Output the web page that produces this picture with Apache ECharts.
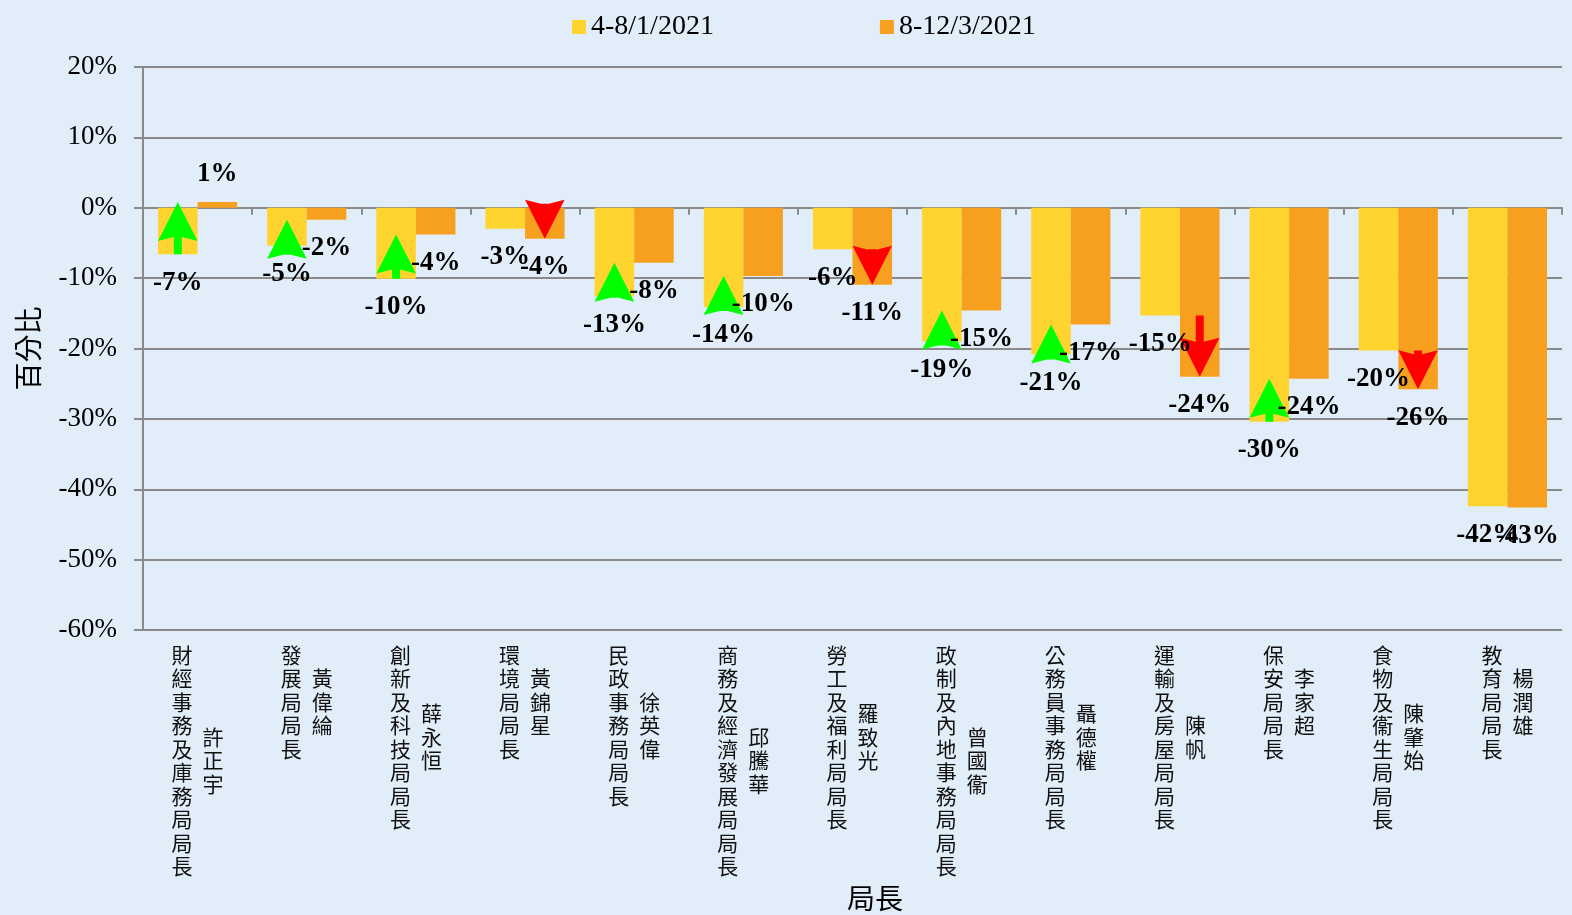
<!DOCTYPE html>
<html><head><meta charset="utf-8">
<script src="https://cdn.jsdelivr.net/npm/echarts@6/dist/echarts.min.js"></script>
<style>html,body{margin:0;padding:0;background:#E1EEF9;}#c{width:1572px;height:915px;}</style>
</head><body><div id="c"></div>
<script>
const titles = ['財經事務及庫務局局長','發展局局長','創新及科技局局長','環境局局長','民政事務局局長','商務及經濟發展局局長','勞工及福利局局長','政制及內地事務局局長','公務員事務局局長','運輸及房屋局局長','保安局局長','食物及衞生局局長','教育局局長'];
const names = ['許正宇','黃偉綸','薛永恒','黃錦星','徐英偉','邱騰華','羅致光','曾國衞','聶德權','陳帆','李家超','陳肇始','楊潤雄'];
const period1 = [-6.6,-5.4,-10.1,-3.0,-12.6,-14.1,-5.9,-19.0,-20.8,-15.3,-30.4,-20.3,-42.4];
const period2 = [0.8,-1.7,-3.8,-4.4,-7.8,-9.7,-10.95,-14.6,-16.6,-24.0,-24.3,-25.8,-42.6];
const arrowDir = [1,1,1,-1,1,1,-1,1,1,-1,1,-1,0];
const seriesNames = ['4-8/1/2021','8-12/3/2021'];
const yTicks = {min:-60, max:20, interval:10};

const cats = titles.map((t,i)=>String(i));
const LH = 23.5;
const GAP = 0.275;
const rich = {n:{fontSize:21, lineHeight:LH, fontFamily:'Noto Sans CJK TC', color:'#111'}};
for (let k=1;k<=12;k++) rich['s'+k] = {fontSize:1, lineHeight:k*LH/2};

const arrowData = arrowDir.map((d,i)=>[i, period1[i], period2[i], d]).filter(r=>r[3]!==0);

const serif = '"Liberation Serif","Times New Roman",serif';
const labelCfg = {show:true, position:'outside', distance:15, fontFamily:serif, fontWeight:'bold', fontSize:27, color:'#000',
  formatter: p => Math.round(p.value) + '%'};

const chart = echarts.init(document.getElementById('c'), null, {renderer:'canvas'});
chart.setOption({
  backgroundColor:'#E1EEF9',
  animation:false,
  legend:{data:seriesNames, left:567, top:8, itemWidth:14, itemHeight:14, itemGap:166, icon:'rect',
    textStyle:{fontFamily:serif, fontSize:28, color:'#000'}},
  title:{text:'局長', left:842, top:879, textStyle:{fontFamily:'Noto Sans CJK TC', fontSize:28, fontWeight:'normal', color:'#000'}},
  grid:{left:143, right:10, top:67, bottom:285},
  xAxis:[
    {type:'category', data:cats, axisLine:{onZero:true, lineStyle:{color:'#8a8a8a', width:2}},
      axisTick:{show:true, length:7, lineStyle:{color:'#8a8a8a', width:2}}, axisLabel:{show:false}},
    {type:'category', data:cats, position:'bottom', axisLine:{show:false, onZero:false}, axisTick:{show:false},
      axisLabel:{show:true, interval:0, margin:13, padding:[0,31,0,0], align:'center', verticalAlign:'top',
        fontFamily:'Noto Sans CJK TC', fontSize:21, lineHeight:LH, color:'#111',
        formatter:(v)=>titles[+v].split('').join('\n')}},
    {type:'category', data:cats, position:'bottom', axisLine:{show:false, onZero:false}, axisTick:{show:false},
      axisLabel:{show:true, interval:0, margin:13, padding:[0,0,0,31], align:'center', verticalAlign:'top',
        fontFamily:'Noto Sans CJK TC', fontSize:21, lineHeight:LH, color:'#111', rich:rich,
        formatter:(v)=>{const i=+v; const k=Math.round(titles[i].length-names[i].length);
          const chars = names[i].split('').map(c=>'{n|'+c+'}').join('\n');
          return (k>0 ? '{s'+k+'| }\n' : '') + chars;}}}
  ],
  yAxis:{type:'value', min:yTicks.min, max:yTicks.max, interval:yTicks.interval,
    name:'百分比', nameLocation:'middle', nameRotate:90, nameGap:101,
    nameTextStyle:{fontFamily:'Noto Sans CJK TC', fontSize:28, color:'#000'},
    axisLine:{show:true, lineStyle:{color:'#8a8a8a', width:2}},
    axisTick:{show:true, length:9, lineStyle:{color:'#8a8a8a', width:2}},
    splitLine:{lineStyle:{color:'#8a8a8a', width:2}},
    axisLabel:{fontFamily:serif, fontSize:27, color:'#000', margin:26, formatter:'{value}%'}},
  series:[
    {name:seriesNames[0], type:'bar', xAxisIndex:0, data:period1, barGap:'0%', barCategoryGap:(GAP*100)+'%',
      itemStyle:{color:'#FFD42F'}, z:2},
    {name:seriesNames[1], type:'bar', xAxisIndex:0, data:period2, barGap:'0%', barCategoryGap:(GAP*100)+'%',
      itemStyle:{color:'#F7A020'}, z:2},
    {type:'custom', xAxisIndex:0, z:3, silent:true, data:arrowData, encode:{x:0, y:[1,2]},
      renderItem:(params, api)=>{
        const i=api.value(0), a=api.value(1), b=api.value(2), d=api.value(3);
        const band = api.size([1,0])[0];
        const bw = band*(1-GAP)/2;
        const c = api.coord([i,0])[0];
        const cx = d>0 ? c-bw/2 : c+bw/2;
        const yBase = api.coord([i,a])[1];
        const yTip = api.coord([i,b])[1];
        const H=39, W=bw, n=4, s=8;
        let pts;
        if (d>0) {
          const yw = yTip+H, yn = yTip+H-n, ys = Math.max(yBase, yn);
          pts=[[cx,yTip],[cx+W/2,yw],[cx+s/2,yn],[cx+s/2,ys],[cx-s/2,ys],[cx-s/2,yn],[cx-W/2,yw]];
        } else {
          const yw = yTip-H, yn = yTip-H+n, ys = Math.min(yBase, yn);
          pts=[[cx,yTip],[cx+W/2,yw],[cx+s/2,yn],[cx+s/2,ys],[cx-s/2,ys],[cx-s/2,yn],[cx-W/2,yw]];
        }
        return {type:'polygon', shape:{points:pts}, style:{fill: d>0 ? '#00FF00' : '#FF0000'}};
      }},
    {name:'lab1', type:'bar', xAxisIndex:1, data:period1, barGap:'0%', barCategoryGap:(GAP*100)+'%', silent:true,
      itemStyle:{color:'rgba(0,0,0,0)'}, label:labelCfg, z:5},
    {name:'lab2', type:'bar', xAxisIndex:1, data:period2, barGap:'0%', barCategoryGap:(GAP*100)+'%', silent:true,
      itemStyle:{color:'rgba(0,0,0,0)'}, label:labelCfg, z:5}
  ]
});
</script></body></html>
